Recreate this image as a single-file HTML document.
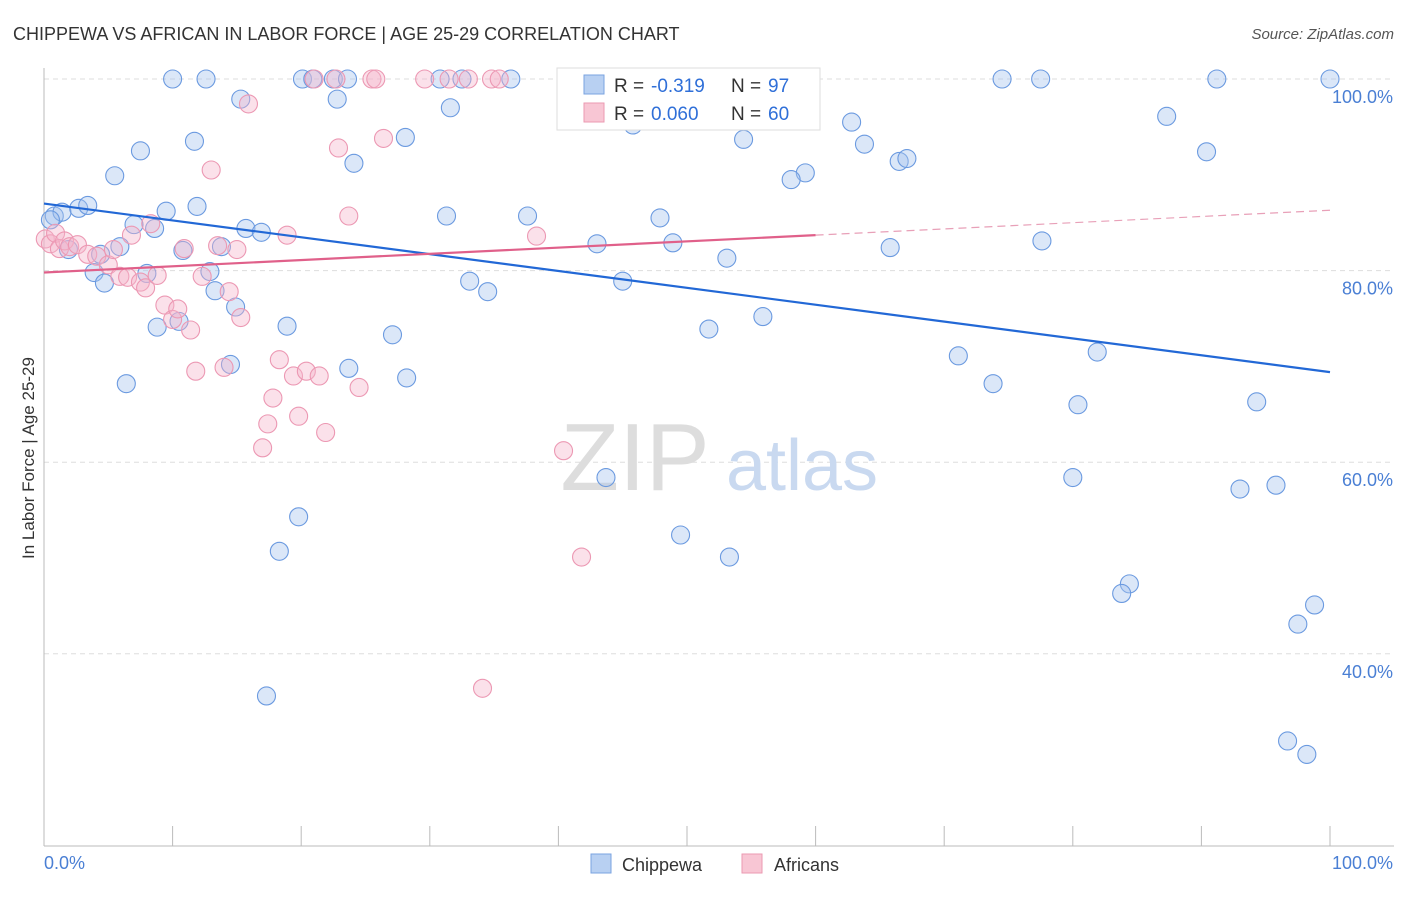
<!DOCTYPE html>
<html><head><meta charset="utf-8"><style>
body{margin:0;background:#fff;font-family:"Liberation Sans",sans-serif;}
svg text{font-family:"Liberation Sans",sans-serif;}
</style></head><body>
<svg id="chart" width="1406" height="892">
<text x="13" y="40" font-size="18" fill="#333">CHIPPEWA VS AFRICAN IN LABOR FORCE | AGE 25-29 CORRELATION CHART</text>
<text x="1394" y="39" font-size="15" fill="#555" font-style="italic" text-anchor="end">Source: ZipAtlas.com</text>
<g id="grid"></g>
<text x="635" y="490" font-size="96" fill="#ddd" font-family="Liberation Serif" text-anchor="middle">ZIP</text>
<text x="802" y="490" font-size="72" fill="#c9d9f0" text-anchor="middle">atlas</text>
<g id="axes"></g>
<g id="pts"></g>
<g id="lines"></g>
<text transform="translate(34,458) rotate(-90)" font-size="17" fill="#333" text-anchor="middle">In Labor Force | Age 25-29</text>
<text x="44" y="869" font-size="18" fill="#4a7fd4">0.0%</text>
<text x="1393" y="869" font-size="18" fill="#4a7fd4" text-anchor="end">100.0%</text>
<g>
<rect x="557" y="68" width="263" height="62" fill="#fff" stroke="#ddd"/>
<rect x="584" y="75" width="20" height="19" fill="#b8d0f2" stroke="#7aa3e0"/>
<rect x="584" y="103" width="20" height="19" fill="#f8c6d4" stroke="#eb9ab2"/>
<text x="614" y="92" font-size="19" fill="#333">R =</text>
<text x="651" y="92" font-size="19" fill="#2f6fd8">-0.319</text>
<text x="731" y="92" font-size="19" fill="#333">N =</text>
<text x="768" y="92" font-size="19" fill="#2f6fd8">97</text>
<text x="614" y="120" font-size="19" fill="#333">R =</text>
<text x="651" y="120" font-size="19" fill="#2f6fd8">0.060</text>
<text x="731" y="120" font-size="19" fill="#333">N =</text>
<text x="768" y="120" font-size="19" fill="#2f6fd8">60</text>
</g>
<g>
<rect x="591" y="854" width="20" height="19" fill="#b8d0f2" stroke="#7aa3e0"/>
<text x="622" y="871" font-size="18" fill="#333">Chippewa</text>
<rect x="742" y="854" width="20" height="19" fill="#f8c6d4" stroke="#eb9ab2"/>
<text x="774" y="871" font-size="18" fill="#333">Africans</text>
</g>
</svg>
<script>
const NS="http://www.w3.org/2000/svg";
const yTicks=[100,80,60,40];
const yTickLabels=["100.0%","80.0%","60.0%","40.0%"];
const blueX=[10,12.6,20.1,20.9,22.5,23.6,30.8,32.5,36.3,50,74.5,77.5,91.2,100,15.3,22.8,31.6,45.8,62.8,87.3,7.5,11.7,28.1,54.4,63.8,90.4,24.1,66.5,67.1,59.2,58.1,5.5,0.8,1.4,2.7,3.4,9.5,11.9,31.3,37.6,47.9,7,8.6,15.7,16.9,43,48.9,65.8,77.6,1.9,5.9,10.8,13.8,53.1,3.9,4.7,8,12.9,13.3,33.1,34.5,45,14.9,55.9,8.8,10.5,18.9,27.1,51.7,71.1,81.9,14.5,23.7,6.4,28.2,73.8,80.4,94.3,43.7,80,93,95.8,19.8,49.5,53.3,18.3,84.4,83.8,98.8,97.5,17.3,96.7,98.2,0.5,4.4];
const blueY=[100,100,100,100,100,100,100,100,100,100,100,100,100,100,97.9,97.9,97,95.2,95.5,96.1,92.5,93.5,93.9,93.7,93.2,92.4,91.2,91.4,91.7,90.2,89.5,89.9,85.7,86.1,86.5,86.8,86.2,86.7,85.7,85.7,85.5,84.8,84.4,84.4,84,82.8,82.9,82.4,83.1,82.2,82.5,82.1,82.5,81.3,79.8,78.7,79.7,79.9,77.9,78.9,77.8,78.9,76.2,75.2,74.1,74.7,74.2,73.3,73.9,71.1,71.5,70.2,69.8,68.2,68.8,68.2,66,66.3,58.4,58.4,57.2,57.6,54.3,52.4,50.1,50.7,47.3,46.3,45.1,43.1,35.6,30.9,29.5,85.3,81.7];
const pinkX=[0.1,0.5,0.9,1.2,1.6,2,2.6,3.4,4.1,5,5.4,5.9,6.5,7.5,7.9,8.3,8.8,6.8,9.4,10,10.4,10.9,11.4,11.8,12.3,13,13.5,14,14.4,15,15.3,15.9,18.3,17.8,17.4,17,18.9,19.4,19.8,20.4,21.4,21.9,21,22.7,22.9,23.7,24.5,25.5,25.8,26.4,29.6,31.5,33,34.8,35.4,38.3,40.4,41.8,34.1,59.1];
const pinkY=[83.3,82.8,83.9,82.3,83.1,82.5,82.7,81.7,81.5,80.6,82.2,79.4,79.3,78.8,78.2,84.9,79.5,83.7,76.4,74.9,76,82.3,73.8,69.5,79.4,90.5,82.6,69.9,77.8,82.2,75.1,97.4,70.7,66.7,64,61.5,83.7,69,64.8,69.5,69,63.1,100,100,92.8,85.7,67.8,100,100,93.8,100,100,100,100,100,83.6,61.2,50.1,36.4,100];
const blueTrend=[87,69.4];
const pinkTrend=[79.8,83.7,86.3];
const X0=44,X1=1330,Y100=79,PX=9.58;
const sx=v=>X0+(X1-X0)*v/100;
const sy=v=>Y100+(100-v)*PX;
function mk(tag,attrs,parent){const e=document.createElementNS(NS,tag);for(const k in attrs)e.setAttribute(k,attrs[k]);parent.appendChild(e);return e;}
const grid=document.getElementById('grid');
yTicks.forEach((t,i)=>{
 const l=mk('line',{x1:44,x2:1394,y1:sy(t),y2:sy(t),stroke:'#ddd','stroke-dasharray':'5,4'},grid);
 
 
 const tx=mk('text',{x:1393,y:sy(t)+24,'font-size':18,fill:'#4a7fd4','text-anchor':'end'},grid);
 tx.textContent=yTickLabels[i];
 
 
});
const axes=document.getElementById('axes');
let a=mk('line',{x1:44,x2:44,y1:68,y2:846,stroke:'#bbb'},axes);


a=mk('line',{x1:44,x2:1394,y1:846,y2:846,stroke:'#bbb'},axes);


for(let i=0;i<=10;i++){
 const t=mk('line',{x1:sx(i*10),x2:sx(i*10),y1:826,y2:846,stroke:'#bbb'},axes);
 
 
}
const pts=document.getElementById('pts');
blueX.forEach((x,i)=>{
 const c=mk('circle',{cx:sx(x),cy:sy(blueY[i]),r:9,fill:'rgba(165,195,238,0.4)',stroke:'#6b9ae0','stroke-width':1.1},pts);
 
 
});
pinkX.forEach((x,i)=>{
 const c=mk('circle',{cx:sx(x),cy:sy(pinkY[i]),r:9,fill:'rgba(246,180,202,0.4)',stroke:'#ec98b3','stroke-width':1.1},pts);
 
 
});
const lines=document.getElementById('lines');
let ln=mk('line',{x1:sx(0),y1:sy(blueTrend[0]),x2:sx(100),y2:sy(blueTrend[1]),stroke:'#2268d6','stroke-width':2.2},lines);


ln=mk('line',{x1:sx(0),y1:sy(pinkTrend[0]),x2:sx(60),y2:sy(pinkTrend[1]),stroke:'#e0608a','stroke-width':2.2},lines);


ln=mk('line',{x1:sx(60),y1:sy(pinkTrend[1]),x2:sx(100),y2:sy(pinkTrend[2]),stroke:'#e8a0b8','stroke-width':1.2,'stroke-dasharray':'8,5'},lines);


</script>
</body></html>
